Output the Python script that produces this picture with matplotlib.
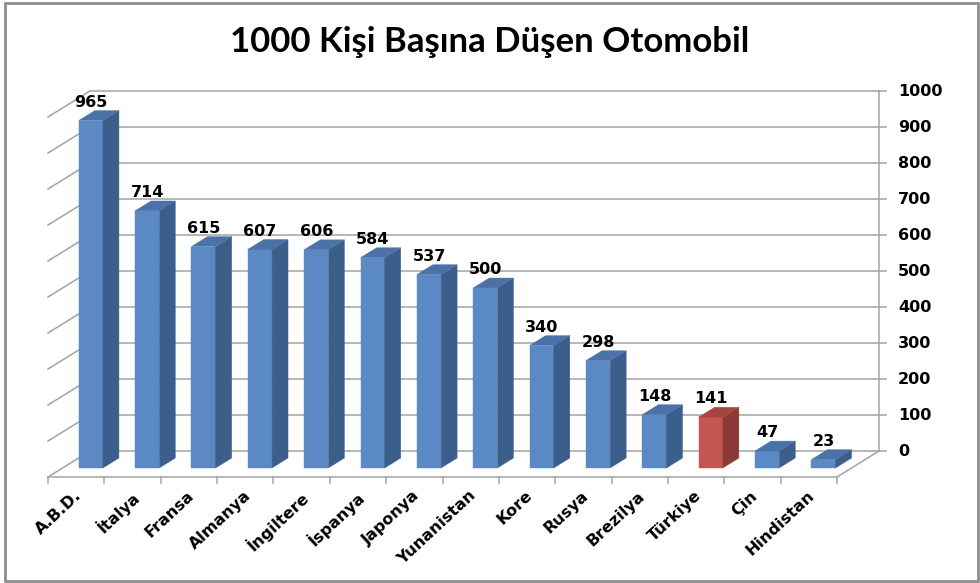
import matplotlib
matplotlib.use('Agg')
import matplotlib.pyplot as plt
from matplotlib.patches import Polygon, Rectangle
from matplotlib.lines import Line2D
from matplotlib.transforms import IdentityTransform

countries = ['A.B.D.', 'İtalya', 'Fransa', 'Almanya', 'İngiltere', 'İspanya', 'Japonya',
             'Yunanistan', 'Kore', 'Rusya', 'Brezilya', 'Türkiye', 'Çin', 'Hindistan']
cars = [965, 714, 615, 607, 606, 584, 537, 500, 340, 298, 148, 141, 47, 23]
highlight = 'Türkiye'
yticks = list(range(0, 1001, 100))

W, H = 980, 583
fig = plt.figure(figsize=(W / 100, H / 100), dpi=100)
fig.patch.set_facecolor('white')

# front plane of the 3d box (floor front edge = value 0)
ax = fig.add_axes([48 / W, (H - 477) / H, 789 / W, 360 / H])
ax.set_xlim(-0.5, len(countries) - 0.5)
ax.set_ylim(0, 1000)
ax.axis('off')

DX, DY = 42, 26          # depth of the box in pixels
BAR_D0, BAR_D1 = 0.35, 0.73   # bars sit inside the box depth
BW = 0.43                # bar width in category units
ident = IdentityTransform()
grid_c = '#a3a3a3'


def P(x, y, d):
    px, py = ax.transData.transform((x, y))
    return (px + DX * d, py + DY * d)


def line(p1, p2, **kw):
    fig.add_artist(Line2D([p1[0], p2[0]], [p1[1], p2[1]], transform=ident,
                          color=kw.get('color', grid_c), lw=kw.get('lw', 1.1), zorder=kw.get('zorder', 1)))


def poly(pts, color, z):
    fig.add_artist(Polygon(pts, closed=True, transform=ident, facecolor=color,
                           edgecolor=color, lw=0.3, zorder=z))


x0, x1 = -0.5, len(countries) - 0.5

# back wall + left wall grid
for v in yticks:
    line(P(x0, v, 1), P(x1, v, 1))
    line(P(x0, v, 0), P(x0, v, 1))
    line(P(x1, v, 1), (P(x1, v, 1)[0] + 7, P(x1, v, 1)[1]))
    fig.text(P(x1, v, 1)[0] + 19, P(x1, v, 1)[1], str(v), transform=ident,
             ha='left', va='center', fontsize=11.5, fontweight='bold', family='DejaVu Sans')
line(P(x1, 0, 1), P(x1, 1000, 1))

# floor
line(P(x0, 0, 0), P(x1, 0, 0))
line(P(x1, 0, 0), P(x1, 0, 1))
for k in range(len(countries) + 1):
    p = P(x0 + k, 0, 0)
    line(p, (p[0], p[1] - 6))

# bars
for i, (name, v) in enumerate(zip(countries, cars)):
    if name == highlight:
        front, side, top = '#c65651', '#8a3936', '#a8443f'
    else:
        front, side, top = '#5a89c4', '#3c5e8a', '#4a72a8'
    a, b = i - BW / 2, i + BW / 2
    poly([P(a, 0, BAR_D0), P(b, 0, BAR_D0), P(b, v, BAR_D0), P(a, v, BAR_D0)], front, 3)
    poly([P(b, 0, BAR_D0), P(b, 0, BAR_D1), P(b, v, BAR_D1), P(b, v, BAR_D0)], side, 3)
    poly([P(a, v, BAR_D0), P(b, v, BAR_D0), P(b, v, BAR_D1), P(a, v, BAR_D1)], top, 3)
    lx = P(i, v, BAR_D0)[0]
    ly = P(i, v, BAR_D1)[1] + 4
    fig.text(lx, ly, str(v), transform=ident, ha='center', va='baseline',
             fontsize=11.5, fontweight='bold', family='DejaVu Sans', zorder=5)
    cx, cy = P(i, 0, 0)
    fig.text(cx - 2, cy - 11, name, transform=ident, ha='right', va='top',
             rotation=43, rotation_mode='anchor', fontsize=11.5, fontweight='bold',
             family='DejaVu Sans')

fig.text(0.5, (H - 42) / H, '1000 Kişi Başına Düşen Otomobil', ha='center', va='center',
         fontsize=25, fontweight='bold', family=['Lato', 'DejaVu Sans'])

# chart area border
fig.add_artist(Rectangle((5, 2), W - 7, H - 5, transform=ident, fill=False,
                         edgecolor='#8e8e8e', lw=2))

fig.savefig('out.png', dpi=100)
